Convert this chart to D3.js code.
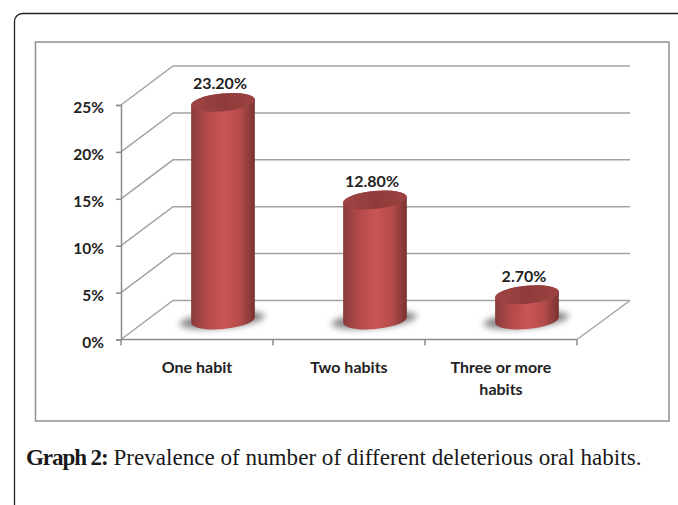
<!DOCTYPE html>
<meta charset="utf-8">
<script src="https://d3js.org/d3.v7.min.js"></script>
<style>
  html, body { margin: 0; padding: 0; background: #fff; }
  svg { display: block; }
  .lbl { font-family: Lato, sans-serif; font-weight: 700; font-size: 16px; fill: #222; }
  .axis path, .axis line { stroke: #8c8c8c; stroke-width: 1.5px; fill: none; }
  .axis text { font-family: Lato, sans-serif; font-weight: 700; font-size: 15.5px; fill: #222; }
  .caption { font-family: "Liberation Serif", serif; font-size: 23.1px; fill: #1a1a1a; }
</style>
<div id="my_dataviz"></div>
<script>
  var categories = ["One habit", "Two habits", "Three or more habits"];
  var values = [23.2, 12.8, 2.7];
  var valueLabels = ["23.20%", "12.80%", "2.70%"];
  var yTicks = [0, 5, 10, 15, 20, 25];

  var W = 678, H = 505;

  // Plot geometry
  var x0 = 121, x1 = 577, yBase = 339.5, yTop = 105;
  var depthX = 52, depthY = 39;

  var svg = d3.select("#my_dataviz").append("svg")
    .attr("width", W)
    .attr("height", H);

  var defs = svg.append("defs");

  var bodyGrad = defs.append("linearGradient").attr("id", "cylBody");
  bodyGrad.append("stop").attr("offset", "0%").attr("stop-color", "#8a3b3b");
  bodyGrad.append("stop").attr("offset", "22%").attr("stop-color", "#af4848");
  bodyGrad.append("stop").attr("offset", "52%").attr("stop-color", "#cb5555");
  bodyGrad.append("stop").attr("offset", "78%").attr("stop-color", "#b24a4a");
  bodyGrad.append("stop").attr("offset", "100%").attr("stop-color", "#783333");

  var topGrad = defs.append("linearGradient").attr("id", "cylTop");
  topGrad.append("stop").attr("offset", "0%").attr("stop-color", "#a04444");
  topGrad.append("stop").attr("offset", "50%").attr("stop-color", "#903c3c");
  topGrad.append("stop").attr("offset", "100%").attr("stop-color", "#9c4141");

  defs.append("filter").attr("id", "blur")
    .attr("x", "-30%").attr("y", "-60%").attr("width", "160%").attr("height", "220%")
    .append("feGaussianBlur").attr("stdDeviation", 3);

  // Outer page box, open on the right and at the bottom
  svg.append("path")
    .attr("d", "M14.5," + H + "V22a8,8 0 0 1 8,-8.5H" + W)
    .attr("fill", "none")
    .attr("stroke", "#222")
    .attr("stroke-width", 1.3);

  // Chart frame
  svg.append("rect")
    .attr("x", 35.5).attr("y", 42)
    .attr("width", 633.5).attr("height", 379)
    .attr("fill", "#fff")
    .attr("stroke", "#909090")
    .attr("stroke-width", 1.5);

  // Scales
  var x = d3.scaleBand().domain(categories).range([x0, x1]);
  var y = d3.scaleLinear().domain([0, 25]).range([yBase, yTop]);

  // Walls
  var wall = svg.append("g")
    .attr("fill", "none")
    .attr("stroke", "#a3a3a3")
    .attr("stroke-width", 1.5);

  yTicks.forEach(function (t) {
    wall.append("path")
      .attr("d", "M" + x0 + "," + y(t) + "L" + (x0 + depthX) + "," + (y(t) - depthY) + "H" + (x1 + depthX + 1));
  });
  wall.append("line")
    .attr("x1", x1).attr("y1", yBase)
    .attr("x2", x1 + depthX + 1).attr("y2", yBase - depthY);

  // Axes
  svg.append("g")
    .attr("class", "axis axis--y")
    .attr("transform", "translate(" + x0 + ",0)")
    .call(d3.axisLeft(y).tickValues(yTicks).tickSize(5).tickPadding(12).tickFormat(function (d) { return d + "%"; }))
    .selectAll("text").attr("dy", "0.5em");

  var xAxis = svg.append("g")
    .attr("class", "axis axis--x")
    .attr("transform", "translate(0," + yBase + ")");
  xAxis.append("path").attr("d", "M" + x0 + ",0H" + x1);
  xAxis.selectAll("line")
    .data(d3.range(categories.length + 1))
    .join("line")
    .attr("x1", function (d) { return x0 + d * x.bandwidth(); })
    .attr("x2", function (d) { return x0 + d * x.bandwidth(); })
    .attr("y1", 0)
    .attr("y2", 6);

  // Category labels, wrapped the way the original wraps them
  categories.forEach(function (c) {
    var words = c.length > 12 ? ["Three or more", "habits"] : [c];
    var t = svg.append("text")
      .attr("class", "lbl")
      .attr("text-anchor", "middle");
    words.forEach(function (w, i) {
      t.append("tspan")
        .attr("x", x(c) + x.bandwidth() / 2)
        .attr("y", 373 + i * 22)
        .text(w);
    });
  });

  // Cylinders
  var rx = 32, ry = 9, tilt = 5.4;
  var rad = tilt * Math.PI / 180;
  var dx = rx * Math.cos(rad), dy = rx * Math.sin(rad);
  var lift = 19.5, shift = 26;

  function arc(sweep, tx, ty) {
    return "A" + rx + "," + ry + " " + (-tilt) + " 0 " + sweep + " " + tx + "," + ty;
  }

  var bars = svg.append("g").selectAll("g")
    .data(values)
    .join("g");

  function cx(d, i) { return x(categories[i]) + x.bandwidth() / 2 + shift; }

  bars.append("ellipse")
    .attr("cx", function (d, i) { return cx(d, i) - 1; })
    .attr("cy", yBase - lift)
    .attr("rx", rx + 11)
    .attr("ry", 8)
    .attr("transform", function (d, i) { return "rotate(" + (-tilt) + " " + cx(d, i) + " " + (yBase - lift) + ")"; })
    .attr("fill", "#8a8a8a")
    .attr("filter", "url(#blur)");

  bars.append("path")
    .attr("fill", "url(#cylBody)")
    .attr("d", function (d, i) {
      var c = cx(d, i), b = yBase - lift, t = y(d) - lift;
      return "M" + (c - dx) + "," + (t + dy)
        + "L" + (c - dx) + "," + (b + dy)
        + arc(0, c + dx, b - dy)
        + "L" + (c + dx) + "," + (t - dy)
        + arc(0, c - dx, t + dy) + "Z";
    });

  bars.append("ellipse")
    .attr("cx", cx)
    .attr("cy", function (d) { return y(d) - lift; })
    .attr("rx", rx)
    .attr("ry", ry)
    .attr("transform", function (d, i) { return "rotate(" + (-tilt) + " " + cx(d, i) + " " + (y(d) - lift) + ")"; })
    .attr("fill", "url(#cylTop)");

  // Value labels
  bars.append("text")
    .attr("class", "lbl")
    .attr("text-anchor", "middle")
    .attr("x", function (d, i) { return cx(d, i) - 3; })
    .attr("y", function (d) { return y(d) - lift - 13; })
    .text(function (d, i) { return valueLabels[i]; });

  // Caption
  var cap = svg.append("text")
    .attr("class", "caption")
    .attr("x", 26)
    .attr("y", 465);
  cap.append("tspan").attr("font-weight", 700).attr("letter-spacing", "-1.1").text("Graph 2:");
  cap.append("tspan").text(" Prevalence of number of different deleterious oral habits.");
</script>
